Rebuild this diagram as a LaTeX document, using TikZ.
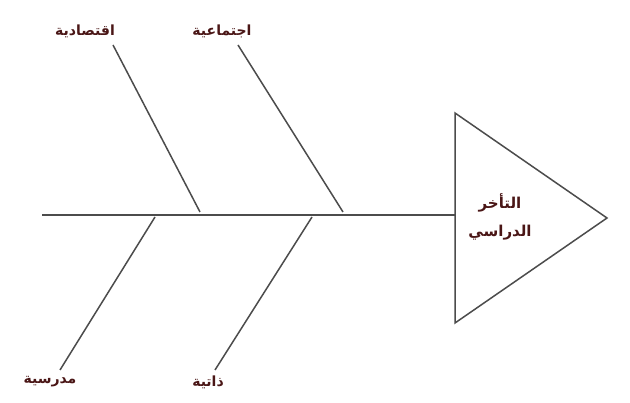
\documentclass[tikz,border=0pt]{standalone}
\usepackage{fontspec}
\newfontfamily\arabicfont[Script=Arabic]{DejaVu Sans}
\TeXXeTstate=1
\definecolor{lbl}{HTML}{4A1616}
\begin{document}
\begin{tikzpicture}[x=1pt,y=-1pt,
  bone/.style={draw=black!70,line width=1.5pt},
  lab/.style={text=lbl,font=\arabicfont\bfseries\fontsize{14}{16}\selectfont,inner sep=1pt},
  headlab/.style={text=lbl,font=\arabicfont\bfseries\fontsize{15}{17}\selectfont,inner sep=1pt,align=center}]
\useasboundingbox (0,0) rectangle (630,403);
\fill[white] (0,0) rectangle (630,403);
% spine
\coordinate (s0) at (42,215);
\coordinate (s1) at (455,215);
\draw[bone] (s0) -- (s1);
% head
\coordinate (h1) at (455,113);
\coordinate (h2) at (607,218);
\coordinate (h3) at (455,323);
\draw[bone,line join=miter] (h1) -- (h2) -- (h3) -- cycle;
\node[headlab] (head) at (500,217) {\beginR التأخر\endR\\[11pt]\beginR الدراسي\endR};
% labels
\node[lab] (econ) at (85,31) {\beginR اقتصادية\endR};
\node[lab] (soc) at (222,31) {\beginR اجتماعية\endR};
\node[lab] (school) at (50,382) {\beginR مدرسية\endR};
\node[lab] (self) at (208,382) {\beginR ذاتية\endR};
% bones
\coordinate (e1) at (113,45); \coordinate (e2) at (200,212);
\coordinate (o1) at (238,45); \coordinate (o2) at (343,212);
\coordinate (c1) at (155,217); \coordinate (c2) at (60,370);
\coordinate (f1) at (312,217); \coordinate (f2) at (215,370);
\draw[bone] (e1) -- (e2);
\draw[bone] (o1) -- (o2);
\draw[bone] (c1) -- (c2);
\draw[bone] (f1) -- (f2);
\end{tikzpicture}
\end{document}
